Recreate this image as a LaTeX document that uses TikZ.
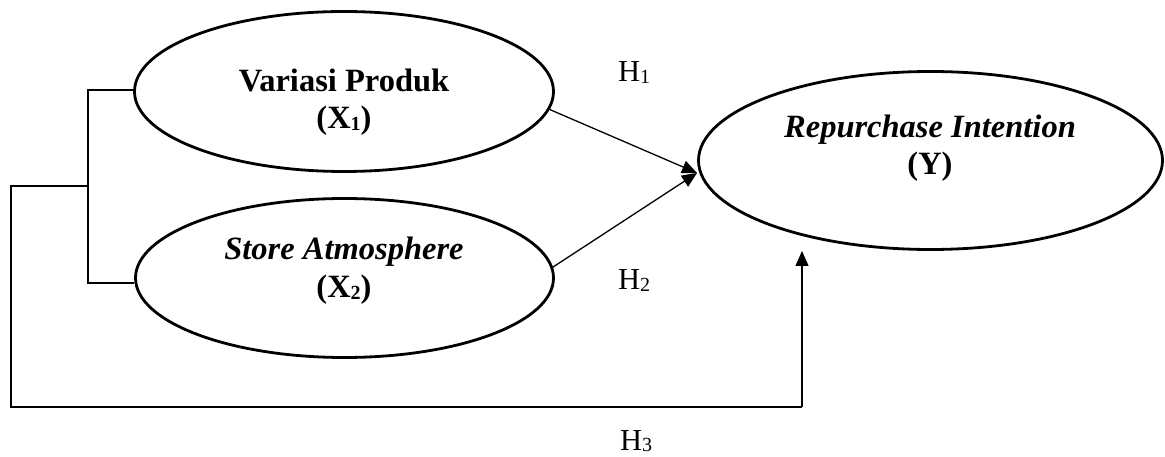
\documentclass[tikz,border=0pt]{standalone}
\usepackage{fontspec}
\setmainfont{Liberation Serif}
\usetikzlibrary{arrows.meta,shapes.geometric}
\newcommand{\sbs}[1]{\raisebox{-1.5pt}{\fontsize{20}{20}\selectfont #1}}
\begin{document}
\begin{tikzpicture}[x=1pt,y=-1pt,
  lat/.style={draw, ellipse, line width=2.8pt, inner sep=0pt},
  lbl/.style={anchor=base, inner sep=0pt, font=\fontsize{32.5}{37}\selectfont},
  hyp/.style={anchor=base west, inner sep=0pt, font=\fontsize{30.5}{36}\selectfont},
  link/.style={line width=1.8pt},
  arr/.style={line width=1.3pt, -{Triangle[length=15pt,width=13pt]}}]
\useasboundingbox (0,0) rectangle (1165,457);
% latent variables
\node[lat, minimum width=419pt, minimum height=160pt] (X1) at (344,91.5) {};
\node[lat, minimum width=418pt, minimum height=159pt] (X2) at (344.5,278) {};
\node[lat, minimum width=464pt, minimum height=178pt] (Y) at (930.5,160.5) {};
% texts
\node[lbl] (x1a) at (344,92) {\bfseries Variasi Produk};
\node[lbl] (x1b) at (344,129) {\bfseries (X\sbs{1})};
\node[lbl] (x2a) at (344,260) {\bfseries\itshape Store Atmosphere};
\node[lbl] (x2b) at (344,298) {\bfseries (X\sbs{2})};
\node[lbl] (ya) at (930,138) {\bfseries\itshape Repurchase Intention};
\node[lbl] (yb) at (930,175) {\bfseries (Y)};
% hypothesis labels
\node[hyp] (h1) at (618,82) {H\sbs{1}};
\node[hyp] (h2) at (618,290) {H\sbs{2}};
\node[hyp] (h3) at (620,450) {H\sbs{3}};
% coordinates
\coordinate (yin) at (697,173);
\coordinate (yin3) at (802,251);
\coordinate (b1) at (88,90);
\coordinate (b2) at (88,283);
\coordinate (bm) at (88,186);
\coordinate (l1) at (11,186);
\coordinate (l2) at (11,407);
\coordinate (l3) at (802,407);
% connectors
\draw[link] (X1.west |- b1) -- (b1) -- (b2) -- (X2.west |- b2);
\draw[link] (bm) -- (l1) -- (l2) -- (l3);
\draw[arr] (l3) -- (yin3);
\draw[arr] (X1.-5) -- (yin);
\draw[arr] (X2.3) -- (yin);
\end{tikzpicture}
\end{document}
